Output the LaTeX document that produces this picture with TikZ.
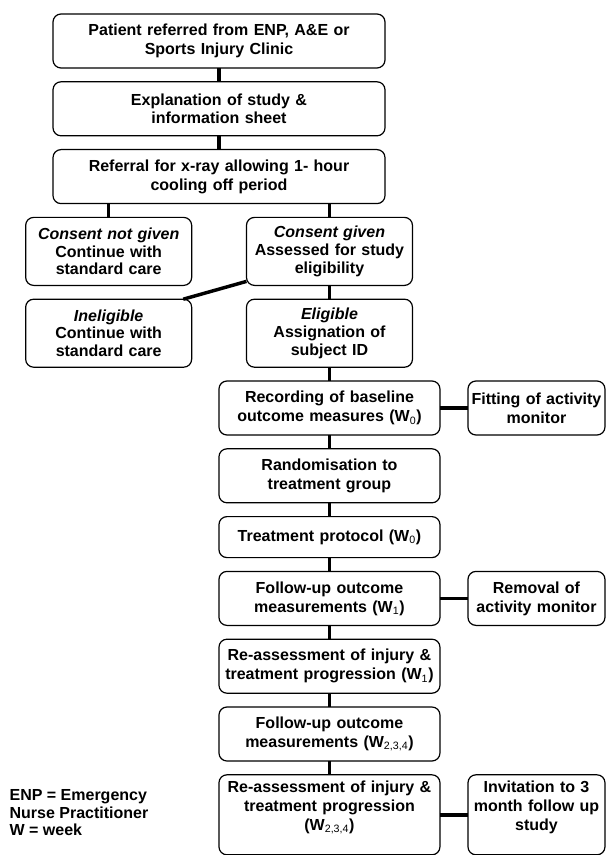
\documentclass[tikz,border=0pt]{standalone}
\usepackage{fontspec}
\setmainfont{Liberation Sans}
\usepackage{tikz}
\usetikzlibrary{positioning}
\tikzset{
  box/.style={rectangle, draw=black, line width=0.9pt, rounded corners=6pt,
              text width=#1, align=center, inner xsep=2pt, inner ysep=2pt,
              outer sep=0pt, minimum height=40.5pt, fill=white},
  box/.default=161.75pt,
  sidebox/.style={box=98.75pt},
  choicebox/.style={box=120.5pt, minimum height=51pt,
                    font=\bfseries\fontsize{12}{13.4}\selectfont},
  link/.style={line width=2.6pt},
  legend/.style={align=left, inner sep=0pt,
                 font=\bfseries\fontsize{12}{13.2}\selectfont},
}
\newcommand{\wk}[1]{W\textsubscript{\mdseries #1}}
\newcommand{\padbelow}{\rule[-13.5pt]{0pt}{13.5pt}}

\begin{document}
\begin{tikzpicture}[node distance=10.35pt and 21pt,
                    font=\bfseries\fontsize{12}{14.2}\selectfont]
\useasboundingbox (0,0) rectangle (454.5pt,-641.25pt);

% ── referral and information ────────────────────────────────────────────────
\node[box=245pt, anchor=north] (refer) at (164.25pt,-10.5pt)
  {Patient referred from ENP, A\&E or\\ Sports Injury Clinic};
\node[box=245pt, below=of refer] (explain)
  {Explanation of study \&\\ information sheet};
\node[box=245pt, below=of explain] (xray)
  {Referral for x-ray allowing 1- hour\\ cooling off period};

% ── consent and eligibility ─────────────────────────────────────────────────
\node[choicebox, below=of xray.south, xshift=-82.75pt] (noconsent)
  {\textit{Consent not given}\\ Continue with\\ standard care};
\node[choicebox, below=of xray.south, xshift=82.85pt] (consent)
  {\textit{Consent given}\\ Assessed for study\\ eligibility};
\node[choicebox, below=of noconsent] (inelig)
  {\textit{Ineligible}\\ Continue with\\ standard care};
\node[choicebox, below=of consent] (elig)
  {\textit{Eligible}\\ Assignation of\\ subject ID};

% ── study weeks ─────────────────────────────────────────────────────────────
\node[box, below=of elig] (baseline)
  {Recording of baseline\\ outcome measures (\wk{0})};
\node[box, below=of baseline] (random)
  {Randomisation to\\ treatment group};
\node[box, minimum height=30.75pt, below=of random] (treat)
  {Treatment protocol (\wk{0})};
\node[box, below=of treat] (follow1)
  {Follow-up outcome\\ measurements (\wk{1})};
\node[box, below=of follow1] (reass1)
  {Re-assessment of injury \&\\ treatment progression (\wk{1})};
\node[box, below=of reass1] (follow2)
  {Follow-up outcome\\ measurements (\wk{2,3,4})};
\node[box, minimum height=60pt, below=of follow2] (reass2)
  {Re-assessment of injury \&\\ treatment progression\\ (\wk{2,3,4})\padbelow};

% ── side steps ──────────────────────────────────────────────────────────────
\node[sidebox, right=of baseline] (fit)
  {Fitting of activity\\ monitor};
\node[sidebox, right=of follow1] (removal)
  {Removal of\\ activity monitor};
\node[sidebox, minimum height=60pt, right=of reass2] (invite)
  {Invitation to 3\\ month follow up\\ study\padbelow};

% ── key ─────────────────────────────────────────────────────────────────────
\node[legend, anchor=west] (key) at (7pt,-609.5pt)
  {ENP = Emergency\\ Nurse Practitioner\\ W = week};

% ── connectors ──────────────────────────────────────────────────────────────
\draw[link] (refer) -- (explain);
\draw[link] (explain) -- (xray);
\draw[link] (noconsent.north) -- (noconsent.north |- xray.south);
\draw[link] (consent.north) -- (consent.north |- xray.south);
\draw[link] ([yshift=3pt]consent.south west) -- ([xshift=-6.3pt]inelig.north east);
\draw[link] (consent) -- (elig);
\draw[link] (elig) -- (baseline);
\draw[link] (baseline) -- (random);
\draw[link] (random) -- (treat);
\draw[link] (treat) -- (follow1);
\draw[link] (follow1) -- (reass1);
\draw[link] (reass1) -- (follow2);
\draw[link] (follow2) -- (reass2);
\draw[link] (baseline) -- (fit);
\draw[link] (follow1) -- (removal);
\draw[link] (reass2) -- (invite);

\end{tikzpicture}
\end{document}
